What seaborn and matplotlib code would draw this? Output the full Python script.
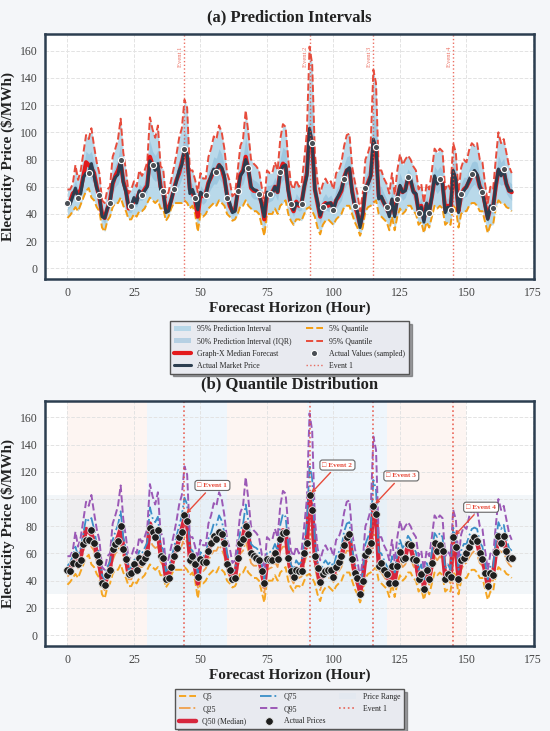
import numpy as np
import matplotlib
matplotlib.use('Agg')
import matplotlib.pyplot as plt
import seaborn as sns

# hourly values (0..167)
hours = list(range(168))

actual = [
    48, 47, 53, 59, 52, 55, 67, 70, 70, 77,
    68, 59, 54, 38, 37, 44, 48, 63, 67, 69,
    80, 63, 56, 45, 46, 52, 48, 57, 54, 57,
    60, 79, 76, 72, 77, 58, 57, 41, 42, 50,
    58, 64, 72, 76, 88, 84, 55, 58, 52, 43,
    56, 54, 54, 62, 68, 73, 71, 76, 74, 68,
    52, 48, 41, 42, 57, 68, 71, 80, 74, 60,
    58, 57, 55, 47, 38, 56, 55, 55, 60, 56,
    71, 75, 76, 57, 47, 43, 48, 47, 47, 60,
    68, 103, 92, 58, 49, 39, 45, 47, 48, 48,
    43, 50, 54, 58, 66, 72, 74, 56, 46, 42,
    30, 40, 59, 62, 68, 95, 89, 51, 53, 48,
    45, 38, 51, 38, 51, 61, 56, 57, 67, 66,
    56, 55, 41, 45, 34, 48, 41, 53, 68, 62,
    66, 62, 41, 45, 43, 72, 65, 41, 55, 57,
    60, 65, 69, 72, 69, 60, 56, 46, 36, 46,
    44, 61, 73, 68, 73, 62, 57, 57]

median = [
    47, 49, 55, 57, 54, 58, 68, 78, 76, 74,
    70, 60, 52, 40, 37, 44, 50, 62, 68, 72,
    78, 64, 57, 44, 45, 50, 50, 56, 55, 58,
    61, 82, 76, 74, 75, 60, 56, 43, 44, 50,
    58, 65, 70, 78, 86, 82, 58, 56, 50, 38,
    55, 53, 55, 63, 67, 72, 72, 76, 73, 66,
    54, 46, 42, 43, 56, 69, 72, 82, 73, 59,
    57, 57, 55, 48, 36, 54, 55, 56, 60, 56,
    72, 77, 75, 58, 46, 42, 49, 46, 48, 60,
    70, 100, 92, 58, 48, 38, 46, 48, 46, 48,
    44, 50, 53, 57, 67, 72, 73, 57, 46, 40,
    32, 40, 58, 63, 68, 92, 88, 53, 52, 48,
    44, 40, 50, 40, 52, 60, 56, 58, 66, 64,
    57, 54, 42, 46, 36, 47, 42, 53, 66, 63,
    66, 63, 43, 46, 42, 70, 64, 42, 54, 58,
    60, 64, 68, 71, 68, 60, 57, 47, 37, 45,
    45, 60, 72, 69, 71, 62, 57, 56]

q95 = [
    58, 58, 62, 76, 65, 72, 85, 98, 95, 103,
    90, 78, 70, 50, 48, 58, 60, 82, 88, 95,
    110, 85, 72, 55, 58, 64, 60, 72, 68, 72,
    78, 111, 102, 96, 105, 75, 73, 52, 56, 65,
    74, 84, 96, 103, 124, 118, 72, 72, 65, 56,
    70, 66, 66, 82, 88, 97, 95, 105, 100, 88,
    70, 64, 53, 55, 72, 90, 95, 116, 100, 80,
    77, 75, 72, 60, 48, 72, 70, 70, 78, 72,
    95, 106, 104, 80, 62, 58, 65, 60, 62, 80,
    100, 163, 150, 85, 64, 55, 62, 66, 62, 64,
    58, 70, 72, 78, 90, 98, 99, 75, 64, 55,
    42, 55, 80, 85, 92, 146, 136, 72, 72, 66,
    62, 55, 70, 54, 72, 84, 76, 80, 83, 80,
    75, 72, 58, 62, 48, 62, 58, 72, 88, 85,
    88, 86, 58, 62, 58, 92, 85, 56, 74, 80,
    78, 87, 92, 90, 92, 80, 78, 62, 48, 60,
    58, 80, 100, 92, 95, 85, 75, 70]

q75 = [
    51, 53, 58, 65, 58, 64, 75, 86, 84, 86,
    78, 67, 59, 44, 41, 50, 54, 70, 76, 81,
    91, 72, 63, 48, 50, 56, 54, 62, 60, 64,
    68, 94, 86, 83, 87, 66, 63, 47, 49, 56,
    64, 73, 80, 88, 101, 96, 64, 62, 56, 45,
    61, 58, 59, 71, 75, 82, 81, 88, 84, 75,
    60, 53, 46, 48, 62, 77, 81, 96, 84, 67,
    65, 64, 62, 53, 41, 61, 61, 62, 67, 62,
    81, 89, 87, 67, 52, 48, 55, 52, 54, 68,
    82, 125, 115, 69, 54, 45, 52, 55, 52, 54,
    50, 58, 61, 65, 76, 82, 83, 64, 53, 46,
    36, 46, 67, 72, 78, 114, 107, 61, 60, 55,
    51, 46, 58, 46, 60, 70, 64, 67, 73, 70,
    64, 61, 48, 52, 41, 53, 48, 61, 75, 72,
    75, 72, 49, 52, 48, 79, 72, 48, 62, 67,
    67, 73, 78, 79, 78, 68, 65, 53, 41, 51,
    50, 68, 83, 78, 81, 71, 64, 62]

q25 = [
    43, 45, 50, 52, 49, 54, 62, 70, 69, 65,
    62, 54, 48, 36, 33, 40, 45, 55, 60, 62,
    68, 57, 51, 41, 41, 46, 45, 50, 50, 52,
    56, 70, 66, 64, 65, 54, 51, 40, 42, 48,
    54, 58, 61, 66, 72, 68, 52, 52, 46, 34,
    49, 47, 49, 55, 59, 62, 62, 66, 63, 58,
    48, 43, 39, 40, 50, 60, 62, 69, 62, 53,
    51, 51, 49, 42, 31, 48, 49, 50, 54, 50,
    62, 65, 65, 51, 42, 38, 44, 42, 43, 52,
    60, 78, 72, 50, 41, 33, 40, 43, 42, 42,
    39, 44, 47, 50, 58, 62, 62, 50, 41, 36,
    29, 36, 52, 56, 59, 74, 73, 48, 46, 43,
    40, 35, 45, 35, 46, 54, 50, 52, 58, 57,
    51, 48, 38, 41, 32, 42, 37, 47, 58, 55,
    58, 55, 39, 41, 38, 60, 56, 37, 48, 52,
    53, 57, 60, 62, 59, 53, 51, 42, 33, 40,
    40, 54, 63, 61, 62, 55, 52, 50]

q05 = [
    37, 39, 42, 45, 42, 47, 52, 57, 59, 52,
    50, 45, 42, 30, 27, 35, 38, 45, 48, 48,
    52, 46, 42, 36, 36, 40, 38, 42, 42, 44,
    48, 52, 50, 48, 50, 44, 44, 35, 38, 44,
    48, 48, 48, 48, 50, 48, 44, 46, 40, 27,
    40, 38, 40, 44, 46, 48, 46, 50, 48, 46,
    40, 38, 35, 36, 40, 46, 46, 50, 46, 44,
    42, 42, 40, 32, 24, 40, 40, 40, 44, 40,
    46, 48, 50, 40, 35, 32, 36, 36, 35, 40,
    44, 45, 42, 38, 30, 25, 32, 35, 36, 34,
    32, 36, 38, 40, 45, 46, 46, 40, 34, 30,
    24, 30, 42, 45, 46, 48, 50, 40, 38, 36,
    34, 28, 38, 28, 38, 44, 40, 42, 46, 46,
    42, 40, 32, 34, 26, 34, 30, 38, 46, 44,
    46, 44, 32, 34, 32, 46, 44, 30, 40, 42,
    42, 46, 48, 48, 46, 42, 42, 34, 26, 32,
    32, 44, 50, 48, 48, 45, 44, 42]

event_hours = [44, 91, 115, 145]
band_pink = [(0, 30), (60, 90), (120, 150)]
band_blue = [(30, 60), (90, 120)]

# style
sns.set_style('whitegrid', {'grid.linestyle': '--', 'grid.color': '#e3e3e3'})
plt.rcParams['font.family'] = ['Liberation Serif', 'DejaVu Sans']

DARK = '#2c3e50'
RED = '#e31a1c'
EVRED = '#e74c3c'

fig = plt.figure(figsize=(5.5, 7.31), dpi=100, facecolor='#f4f6f9')
ax1 = fig.add_axes([0.082, 0.618, 0.889, 0.335])
ax2 = fig.add_axes([0.082, 0.1163, 0.889, 0.335])

h = np.array(hours)

def style_axes(ax, title):
    ax.set_facecolor('white')
    for s in ax.spines.values():
        s.set_color(DARK)
        s.set_linewidth(1.8)
    ax.set_xlim(-8.4, 175.4)
    ax.set_ylim(-8, 172)
    ax.set_xticks([0, 25, 50, 75, 100, 125, 150, 175])
    ax.set_yticks(range(0, 161, 20))
    ax.tick_params(labelsize=8.5, colors='#444444', pad=2)
    ax.grid(True, linestyle='--', color='#e3e3e3', lw=0.7)
    ax.set_title(title, fontsize=12, fontweight='bold', color='#222222', pad=9)
    ax.set_xlabel('Forecast Horizon (Hour)', fontsize=11, fontweight='bold',
                  color='#222222', labelpad=2)
    ax.set_ylabel('Electricity Price ($/MWh)', fontsize=11, fontweight='bold',
                  color='#222222', labelpad=3)

def add_legend(ax, order, ncol, anchor):
    hd, lb = ax.get_legend_handles_labels()
    lut = dict(zip(lb, hd))
    leg = ax.legend([lut[k] for k in order], order, loc='upper center',
                    bbox_to_anchor=(0.5, anchor), ncol=ncol, fontsize=5.6,
                    frameon=True, fancybox=False, shadow=True,
                    facecolor='#e8eaf0', edgecolor='#555555',
                    columnspacing=1.8, handlelength=2.2, labelspacing=0.55,
                    borderpad=0.5)
    leg.get_frame().set_linewidth(1.0)

# ---------- (a) Prediction Intervals ----------
ax = ax1
ax.fill_between(h, q05, q95, color='#b2d5e8', alpha=0.9, lw=0,
                label='95% Prediction Interval')
ax.fill_between(h, q25, q75, color='#85b8d8', alpha=0.5, lw=0,
                label='50% Prediction Interval (IQR)')
sns.lineplot(x=h, y=q05, ax=ax, color='#f39c12', linestyle='--', lw=1.4,
             label='5% Quantile')
sns.lineplot(x=h, y=q95, ax=ax, color=EVRED, linestyle='--', lw=1.4,
             label='95% Quantile')
sns.lineplot(x=h, y=median, ax=ax, color=RED, lw=3.0,
             label='Graph-X Median Forecast')
sns.lineplot(x=h, y=actual, ax=ax, color=DARK, lw=2.2,
             label='Actual Market Price')
sns.scatterplot(x=h[::4], y=np.array(actual)[::4], ax=ax, color='#4a4f55',
                s=20, edgecolor='white', linewidth=0.8, zorder=5,
                label='Actual Values (sampled)')
for i, eh in enumerate(event_hours):
    ax.axvline(eh, color=EVRED, ls=':', lw=1.0, alpha=0.8,
               label='Event 1' if i == 0 else None)
    ax.text(eh - 0.6, 163, f'Event {i + 1}', rotation=90, fontsize=4.8,
            color=EVRED, ha='right', va='top', alpha=0.8)
style_axes(ax, '(a) Prediction Intervals')
add_legend(ax, ['95% Prediction Interval', '50% Prediction Interval (IQR)',
                'Graph-X Median Forecast', 'Actual Market Price',
                '5% Quantile', '95% Quantile', 'Actual Values (sampled)',
                'Event 1'], 2, -0.155)

# ---------- (b) Quantile Distribution ----------
ax = ax2
for a, b in band_pink:
    ax.axvspan(a, b, color='#fbe9e4', alpha=0.45, lw=0, zorder=0)
for a, b in band_blue:
    ax.axvspan(a, b, color='#e3f0fa', alpha=0.55, lw=0, zorder=0)
ax.axhspan(min(actual), max(actual), color='#dae6f0', alpha=0.35, lw=0,
           zorder=0, label='Price Range')

sns.lineplot(x=h, y=q05, ax=ax, color='#f5a623', linestyle='--', lw=1.4,
             label='Q5')
sns.lineplot(x=h, y=q25, ax=ax, color='#f0a04b', linestyle='-.', lw=1.3,
             label='Q25')
sns.lineplot(x=h, y=median, ax=ax, color='#d7263d', lw=3.2,
             label='Q50 (Median)')
sns.lineplot(x=h, y=q75, ax=ax, color='#3a8fc8', linestyle='-.', lw=1.3,
             label='Q75')
sns.lineplot(x=h, y=q95, ax=ax, color='#9b59b6', linestyle='--', lw=1.4,
             label='Q95')
sns.scatterplot(x=h, y=actual, ax=ax, color='#1e1e1e', s=30,
                edgecolor='#e8e8e8', linewidth=0.6, zorder=5,
                label='Actual Prices')
for i, eh in enumerate(event_hours):
    ax.axvline(eh, color=EVRED, ls=':', lw=1.2, alpha=0.85,
               label='Event 1' if i == 0 else None)
    ax.annotate(f'\u25a1 Event {i + 1}', xy=(eh, actual[eh]),
                xytext=(eh + 10.5, actual[eh] + 22),
                fontsize=5.2, fontweight='bold', color=EVRED,
                ha='center', va='center', zorder=7,
                bbox=dict(boxstyle='round,pad=0.35', fc='white',
                          ec='#666666', lw=0.8),
                arrowprops=dict(arrowstyle='->', color=EVRED, lw=1.0))
style_axes(ax, '(b) Quantile Distribution')
add_legend(ax, ['Q5', 'Q25', 'Q50 (Median)', 'Q75', 'Q95', 'Actual Prices',
                'Price Range', 'Event 1'], 3, -0.16)

fig.savefig('out.png', dpi=100, facecolor=fig.get_facecolor())
